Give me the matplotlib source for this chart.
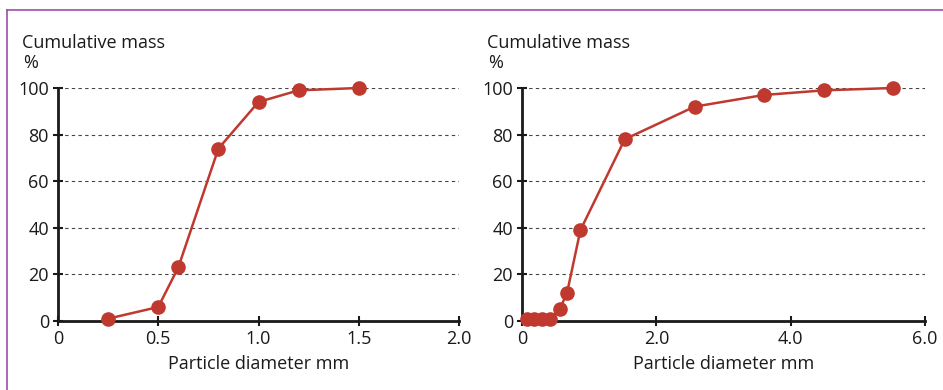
import matplotlib
matplotlib.use("Agg")
import matplotlib.pyplot as plt
from matplotlib.lines import Line2D

plt.rcParams['font.family'] = ['Open Sans', 'DejaVu Sans']

left_x = [0.25, 0.5, 0.6, 0.8, 1.0, 1.2, 1.5]
left_y = [1, 6, 23, 74, 94, 99, 100]
right_x = [0.08, 0.18, 0.3, 0.42, 0.56, 0.67, 0.87, 1.53, 2.57, 3.6, 4.5, 5.52]
right_y = [1, 1, 1, 1, 5, 12, 39, 78, 92, 97, 99, 100]

left_xticks = [0, 0.5, 1.0, 1.5, 2.0]
left_xlabels = ['0', '0.5', '1.0', '1.5', '2.0']
right_xticks = [0, 2.0, 4.0, 6.0]
right_xlabels = ['0', '2.0', '4.0', '6.0']
yticks = [0, 20, 40, 60, 80, 100]

RED = '#c0392f'
PURPLE = '#9b4fa8'
FS = 13

fig = plt.figure(figsize=(9.43, 3.90), dpi=100)

W, H = 943, 390
def ax_rect(x0, x1, y0, y1):
    return [x0 / W, 1 - y0 / H, (x1 - x0) / W, (y0 - y1) / H]

panels = [
    (ax_rect(58, 459, 321, 88), left_x, left_y, left_xticks, left_xlabels, (0, 2.0), 22),
    (ax_rect(522, 925, 321, 88), right_x, right_y, right_xticks, right_xlabels, (0, 6.0), 487),
]

for rect, xs, ys, xt, xl, xlim, lx in panels:
    ax = fig.add_axes(rect)
    ax.set_xlim(*xlim)
    ax.set_ylim(0, 100)
    for v in yticks[1:]:
        ax.axhline(v, color='#444444', lw=0.8, ls=(0, (3, 3)), zorder=1)
    ax.plot(xs, ys, color=RED, lw=1.8, marker='o', ms=9.5, clip_on=False, zorder=3)
    for s in ['top', 'right']:
        ax.spines[s].set_visible(False)
    for s in ['left', 'bottom']:
        ax.spines[s].set_linewidth(2)
        ax.spines[s].set_color('#1a1a1a')
    ax.set_xticks(xt)
    ax.set_xticklabels(xl)
    ax.set_yticks(yticks)
    ax.tick_params(direction='inout', length=7, width=1.5, labelsize=FS, colors='#1a1a1a', pad=3)
    ax.set_xlabel('Particle diameter mm', fontsize=FS, color='#1a1a1a', labelpad=5)
    fig.text(lx / W, 1 - 48 / H, 'Cumulative mass', fontsize=FS, color='#1a1a1a', ha='left', va='baseline')
    fig.text((lx + 1) / W, 1 - 68 / H, '%', fontsize=FS, color='#1a1a1a', ha='left', va='baseline')

fig.add_artist(Line2D([7 / W, 7 / W], [0, 1 - 10 / H], color=PURPLE, lw=1.2, transform=fig.transFigure))
fig.add_artist(Line2D([7 / W, 1], [1 - 10 / H, 1 - 10 / H], color=PURPLE, lw=1.2, transform=fig.transFigure))

fig.savefig('out.png', dpi=100)
